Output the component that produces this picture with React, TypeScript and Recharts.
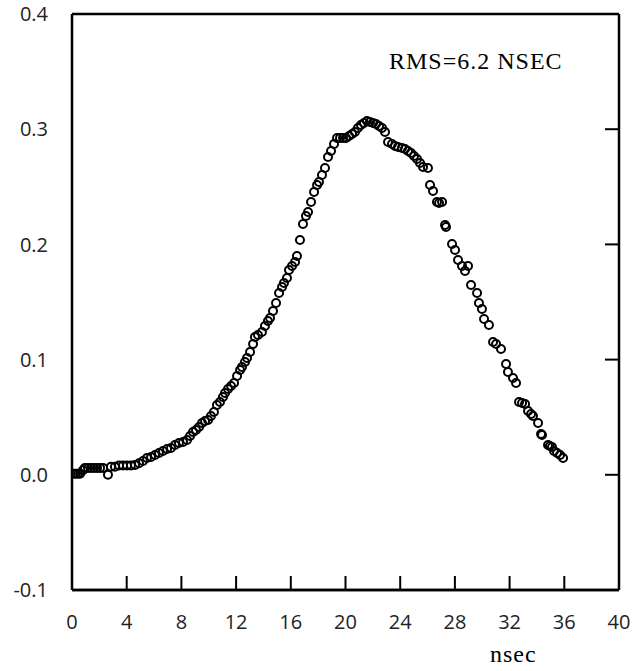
import { ScatterChart, Scatter, XAxis, YAxis } from "recharts";

// pulse shape: time (nsec) and amplitude
const timeNs = [
  0.15, 0.29, 0.44, 0.59, 0.8, 0.95, 1.17, 1.39, 1.61, 1.83, 2.05, 2.27, 2.63, 2.85, 3.14, 3.44,
  3.73, 4.02, 4.31, 4.61, 4.9, 5.19, 5.48, 5.78, 6.07, 6.36, 6.65, 6.95, 7.24, 7.53, 7.82, 8.12,
  8.41, 8.63, 8.85, 9.07, 9.29, 9.51, 9.73, 9.95, 10.16, 10.38, 10.6, 10.82, 11.04, 11.19, 11.41,
  11.63, 11.85, 12.07, 12.29, 12.43, 12.65, 12.8, 13.02, 13.24, 13.38, 13.6, 13.89, 14.11, 14.33,
  14.48, 14.7, 14.92, 15.14, 15.36, 15.5, 15.72, 15.87, 16.09, 16.31, 16.45, 16.67, 16.89, 17.11,
  17.26, 17.48, 17.7, 17.92, 18.06, 18.28, 18.5, 18.72, 18.94, 19.16, 19.38, 19.6, 19.82, 20.04,
  20.26, 20.48, 20.69, 20.91, 21.13, 21.35, 21.57, 21.79, 22.01, 22.23, 22.45, 22.67, 22.89, 23.11,
  23.4, 23.62, 23.84, 24.13, 24.35, 24.57, 24.79, 25.01, 25.23, 25.45, 25.67, 26.03, 26.18, 26.4,
  26.69, 26.84, 27.06, 27.28, 27.35, 27.79, 28.01, 28.23, 28.52, 28.74, 28.96, 29.18, 29.62, 29.76,
  29.98, 30.13, 30.49, 30.79, 31.01, 31.37, 31.74, 31.88, 32.25, 32.47, 32.69, 32.91, 33.13, 33.35,
  33.57, 33.71, 34.08, 34.3, 34.37, 34.81, 34.95, 35.1, 35.25, 35.47, 35.69, 35.91,
];

const amplitude = [
  0.001, 0.001, 0.001, 0.001, 0.004, 0.006, 0.006, 0.006, 0.006, 0.006, 0.006, 0.006, 0.0, 0.007,
  0.007, 0.008, 0.008, 0.008, 0.008, 0.0085, 0.010, 0.012, 0.0146, 0.0155, 0.0172, 0.0189, 0.0207,
  0.0224, 0.0233, 0.0259, 0.0276, 0.0285, 0.0302, 0.0337, 0.0372, 0.0389, 0.0415, 0.045, 0.0467,
  0.0476, 0.051, 0.0545, 0.0606, 0.0632, 0.0675, 0.071, 0.0745, 0.0771, 0.0797, 0.0858, 0.091,
  0.0936, 0.0979, 0.1014, 0.1066, 0.1135, 0.1196, 0.1214, 0.124, 0.1292, 0.1335, 0.1361, 0.1422,
  0.1491, 0.1578, 0.163, 0.1665, 0.1708, 0.1778, 0.1813, 0.1847, 0.1899, 0.2038, 0.2177, 0.2247,
  0.2281, 0.2368, 0.2455, 0.2516, 0.2542, 0.2602, 0.2663, 0.2759, 0.2811, 0.2872, 0.2924, 0.2924,
  0.2924, 0.2924, 0.2941, 0.2958, 0.2976, 0.301, 0.3036, 0.3054, 0.3071, 0.3063, 0.3054, 0.3045,
  0.3028, 0.301, 0.2976, 0.2889, 0.2872, 0.2854, 0.2845, 0.2837, 0.2828, 0.2811, 0.2793, 0.2767,
  0.2741, 0.2707, 0.2672, 0.2663, 0.2516, 0.2464, 0.2368, 0.2359, 0.2368, 0.2168, 0.2151, 0.2003,
  0.1951, 0.1865, 0.1813, 0.1769, 0.1813, 0.1648, 0.1578, 0.1491, 0.1439, 0.1352, 0.13, 0.1153,
  0.1135, 0.1092, 0.0962, 0.0892, 0.084, 0.0797, 0.0632, 0.0623, 0.0615, 0.0554, 0.0528, 0.051,
  0.045, 0.0354, 0.0345, 0.0259, 0.025, 0.0241, 0.0207, 0.0189, 0.0172, 0.0146,
];

const xTicks = [0, 4, 8, 12, 16, 20, 24, 28, 32, 36, 40];
const yTicks = [-0.1, 0, 0.1, 0.2, 0.3, 0.4];

const points = timeNs.map((t, i) => ({ t, a: amplitude[i] }));

const TICK_FONT = { fontFamily: "Open Sans", fontSize: 20, fill: "#222" };
const SERIF = '"Liberation Serif", "Times New Roman", serif';
const FRAME = { stroke: "#000", strokeWidth: 2.5 };
const TICK_LINE = { stroke: "#000", strokeWidth: 2 };

function Ring(props: any) {
  return <circle cx={props.cx} cy={props.cy} r={4} fill="none" stroke="#000" strokeWidth={2} />;
}

// tick marks only, no labels
const NoLabel = () => <g />;

export default function App() {
  return (
    <div style={{ position: "absolute", left: 0, top: 0, width: 637, height: 671, background: "#fff" }}>
      <ScatterChart width={637} height={671} margin={{ top: 14, right: 18, bottom: 80, left: 12 }}>
        {/* inward tick marks along the bottom */}
        <XAxis
          xAxisId="bt"
          type="number"
          dataKey="t"
          domain={[0, 40]}
          ticks={xTicks}
          mirror
          height={1}
          tick={NoLabel}
          tickSize={14}
          tickLine={TICK_LINE}
          axisLine={FRAME}
          allowDataOverflow
        />
        <XAxis
          xAxisId="b"
          type="number"
          dataKey="t"
          domain={[0, 40]}
          ticks={xTicks}
          height={1}
          tick={TICK_FONT}
          tickLine={false}
          tickSize={0}
          tickMargin={25}
          axisLine={FRAME}
          allowDataOverflow
        />
        <XAxis
          xAxisId="top"
          orientation="top"
          type="number"
          dataKey="t"
          domain={[0, 40]}
          ticks={xTicks}
          mirror
          height={1}
          tick={false}
          tickLine={false}
          axisLine={FRAME}
          allowDataOverflow
        />
        <YAxis
          yAxisId="l"
          type="number"
          dataKey="a"
          domain={[-0.1, 0.4]}
          ticks={yTicks}
          width={60}
          tick={TICK_FONT}
          tickFormatter={(v: number) => v.toFixed(1)}
          tickLine={false}
          tickSize={0}
          tickMargin={24}
          axisLine={FRAME}
          allowDataOverflow
        />
        <YAxis
          yAxisId="r"
          orientation="right"
          type="number"
          dataKey="a"
          domain={[-0.1, 0.4]}
          ticks={yTicks}
          mirror
          width={1}
          tick={NoLabel}
          tickSize={14}
          tickLine={TICK_LINE}
          axisLine={FRAME}
          allowDataOverflow
        />
        <Scatter data={points} xAxisId="b" yAxisId="l" shape={Ring} isAnimationActive={false} />
      </ScatterChart>
      <div
        style={{
          position: "absolute",
          left: 389,
          top: 48,
          fontFamily: SERIF,
          fontSize: 24,
          letterSpacing: 1,
          color: "#000",
          whiteSpace: "nowrap",
        }}
      >
        RMS=6.2 NSEC
      </div>
      <div
        style={{
          position: "absolute",
          left: 490,
          top: 641,
          fontFamily: SERIF,
          fontSize: 24,
          letterSpacing: 1,
          color: "#000",
        }}
      >
        nsec
      </div>
    </div>
  );
}
